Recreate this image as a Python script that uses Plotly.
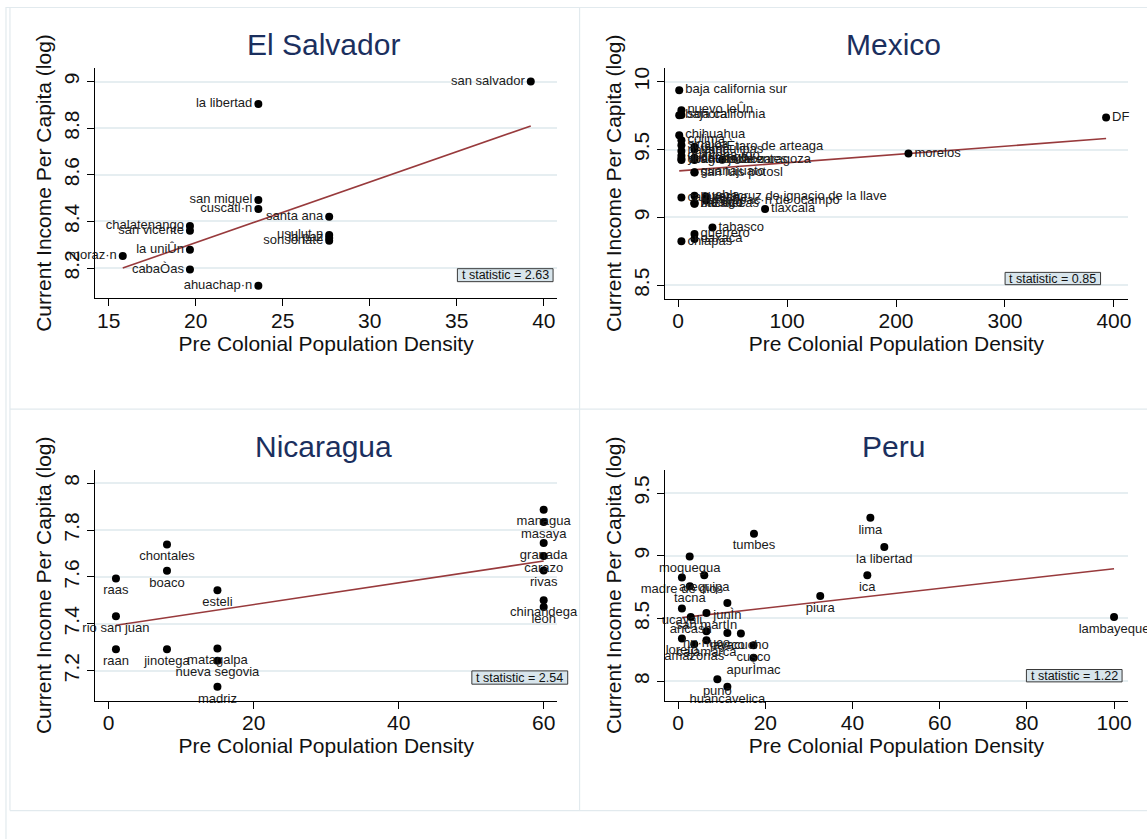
import plotly.graph_objects as go

# ---------------- data ----------------
# El Salvador
es_names = ["san salvador", "la libertad", "san miguel", "cuscatl·n", "santa ana",
            "chalatenango", "san vicente", "usulut·n", "la paz", "sonsonate",
            "la uniÛn", "moraz·n", "cabaÒas", "ahuachap·n"]
es_density = [39.25, 23.6, 23.6, 23.6, 27.67, 19.67, 19.67, 27.67, 27.67, 27.67,
              19.67, 15.81, 19.67, 23.6]
es_income = [9.0, 8.904, 8.492, 8.453, 8.42, 8.38, 8.36, 8.342, 8.329, 8.317,
             8.279, 8.252, 8.194, 8.124]
es_fit_x = [15.81, 39.25]
es_fit_y = [8.20, 8.81]
es_tstat = "t statistic = 2.63"
es_xticks = [15, 20, 25, 30, 35, 40]
es_yticks = [8.2, 8.4, 8.6, 8.8, 9.0]
es_ytext = ["8.2", "8.4", "8.6", "8.8", "9"]

# Mexico
mx_names = ["baja california sur", "nuevo leÛn", "baja california", "sonora", "DF",
            "chihuahua", "colima", "sinaloa", "querÈtaro de arteaga", "tamaulipas",
            "nayarit", "morelos", "quintana roo", "durango", "coahuila de zaragoza",
            "aguascalientes", "jalisco", "yucat·n", "guanajuato", "san luis potosl",
            "campeche", "puebla", "veracruz de ignacio de la llave",
            "michoac·n de ocampo", "zacatecas", "hidalgo", "mÈxico", "tlaxcala",
            "tabasco", "guerrero", "oaxaca", "chiapas"]
mx_density = [1, 3, 1, 3, 392.8, 1, 3, 3, 15, 15, 3, 211.4, 3, 15, 3, 15, 40.4, 3,
              15, 15, 3, 15, 25.5, 25.5, 15, 15, 15, 79.8, 31.5, 15, 15, 3]
mx_income = [9.937, 9.79, 9.753, 9.755, 9.735, 9.606, 9.569, 9.532, 9.52, 9.50,
             9.49, 9.471, 9.455, 9.44, 9.422, 9.422, 9.425, 9.43, 9.333, 9.33,
             9.147, 9.16, 9.155, 9.125, 9.103, 9.108, 9.10, 9.062, 8.926, 8.878,
             8.841, 8.824]
mx_fit_x = [1, 392.8]
mx_fit_y = [9.343, 9.581]
mx_tstat = "t statistic = 0.85"
mx_xticks = [0, 100, 200, 300, 400]
mx_yticks = [8.5, 9.0, 9.5, 10.0]
mx_ytext = ["8.5", "9", "9.5", "10"]

# Nicaragua
ni_names = ["managua", "masaya", "granada", "carazo", "rivas", "chinandega", "leon",
            "chontales", "boaco", "raas", "esteli", "rio san juan", "raan",
            "jinotega", "matagalpa", "nueva segovia", "madriz"]
ni_density = [60, 60, 60, 60, 60, 60, 60, 8.04, 8.04, 1.0, 15.0, 1.0, 1.0, 8.04,
              15.0, 15.0, 15.0]
ni_income = [7.887, 7.834, 7.745, 7.689, 7.628, 7.501, 7.472, 7.738, 7.626, 7.593,
             7.543, 7.433, 7.292, 7.292, 7.295, 7.243, 7.132]
ni_fit_x = [1.0, 60]
ni_fit_y = [7.394, 7.668]
ni_tstat = "t statistic = 2.54"
ni_xticks = [0, 20, 40, 60]
ni_yticks = [7.2, 7.4, 7.6, 7.8, 8.0]
ni_ytext = ["7.2", "7.4", "7.6", "7.8", "8"]

# Peru
pe_names = ["lima", "tumbes", "la libertad", "moquegua", "ica", "madre de dios",
            "arequipa", "tacna", "piura", "junÌn", "ucayali", "ancash", "san martÌn",
            "lambayeque", "hu·nuco", "pasco", "ayacucho", "loreto", "cajamarca",
            "amazonas", "cusco", "apurÌmac", "puno", "huancavelica"]
pe_density = [44.1, 17.4, 47.3, 2.65, 43.4, 0.87, 6.0, 2.7, 32.6, 11.3, 0.87, 2.9,
              6.5, 100.0, 6.5, 11.3, 14.4, 0.87, 6.5, 3.7, 17.3, 17.3, 9.0, 11.3]
pe_income = [9.303, 9.176, 9.069, 8.995, 8.844, 8.826, 8.844, 8.756, 8.679, 8.623,
             8.579, 8.512, 8.544, 8.512, 8.398, 8.385, 8.38, 8.34, 8.326, 8.295,
             8.287, 8.186, 8.016, 7.955]
pe_fit_x = [0.87, 100]
pe_fit_y = [8.507, 8.897]
pe_tstat = "t statistic = 1.22"
pe_xticks = [0, 20, 40, 60, 80, 100]
pe_yticks = [8.0, 8.5, 9.0, 9.5]
pe_ytext = ["8", "8.5", "9", "9.5"]

# ---------------- layout helpers ----------------
W, H = 1147, 839
FONT = "Liberation Sans, Arial, Helvetica, sans-serif"
TITLE_COLOR = "#1b2f5e"
FIT_COLOR = "#983a3c"
GRID_COLOR = "#e6eef1"
FRAME_COLOR = "#e2eaee"


def px(p):
    return p / W


def py(p):
    return 1 - p / H


fig = go.Figure()

panels = [
    dict(title="El Salvador", names=es_names, x=es_density, y=es_income,
         fx=es_fit_x, fy=es_fit_y, t=es_tstat, xt=es_xticks, yt=es_yticks, ytt=es_ytext,
         box=(95.4, 559, 66.7, 297.7), xr=[14.22, 40.76], yr=[8.07, 9.06],
         pos="middle left", tbox=(459, 555, 268, 281)),
    dict(title="Mexico", names=mx_names, x=mx_density, y=mx_income,
         fx=mx_fit_x, fy=mx_fit_y, t=mx_tstat, xt=mx_xticks, yt=mx_yticks, ytt=mx_ytext,
         box=(667.5, 1131.5, 66.7, 298.3), xr=[-11.9, 412.5], yr=[8.40, 10.103],
         pos="middle right", tbox=(1008.6, 1104.4, 271.7, 284)),
    dict(title="Nicaragua", names=ni_names, x=ni_density, y=ni_income,
         fx=ni_fit_x, fy=ni_fit_y, t=ni_tstat, xt=ni_xticks, yt=ni_yticks, ytt=ni_ytext,
         box=(95.4, 559.4, 469.3, 700.7), xr=[-1.88, 61.9], yr=[7.072, 8.057],
         pos="bottom center", tbox=(473.5, 569.7, 670.7, 684)),
    dict(title="Peru", names=pe_names, x=pe_density, y=pe_income,
         fx=pe_fit_x, fy=pe_fit_y, t=pe_tstat, xt=pe_xticks, yt=pe_yticks, ytt=pe_ytext,
         box=(667.5, 1131.5, 469.3, 700.7), xr=[-2.97, 103.1], yr=[7.843, 9.686],
         pos="bottom center", tbox=(1030, 1126, 669.3, 681.7)),
]

annotations = []
shapes = []

for i, p in enumerate(panels, start=1):
    xa = "x" if i == 1 else f"x{i}"
    ya = "y" if i == 1 else f"y{i}"
    left, right, top, bottom = p["box"]

    fig.add_trace(go.Scatter(
        x=p["fx"], y=p["fy"], mode="lines",
        line=dict(color=FIT_COLOR, width=1.6),
        xaxis=xa, yaxis=ya, showlegend=False, hoverinfo="skip"))
    fig.add_trace(go.Scatter(
        x=p["x"], y=p["y"], mode="markers+text", text=p["names"],
        textposition=p["pos"],
        textfont=dict(family=FONT, size=13, color="#1a1a1a"),
        marker=dict(color="black", size=8),
        cliponaxis=False, xaxis=xa, yaxis=ya, showlegend=False))

    axis_common = dict(
        showline=True, linecolor="black", linewidth=1.3, ticks="outside",
        ticklen=7, tickcolor="black", tickwidth=1.2, zeroline=False,
        tickfont=dict(family=FONT, size=21, color="#111111"),
    )
    fig.layout[("xaxis" if i == 1 else f"xaxis{i}")] = dict(
        axis_common, domain=[px(left), px(right)], anchor=ya, range=p["xr"],
        tickvals=p["xt"], showgrid=False, ticklabelstandoff=-4,
        title=dict(text="Pre Colonial Population Density", standoff=4,
                   font=dict(family=FONT, size=21, color="#111111")),
    )
    fig.layout[("yaxis" if i == 1 else f"yaxis{i}")] = dict(
        axis_common, domain=[py(bottom), py(top)], anchor=xa, range=p["yr"],
        tickvals=p["yt"], ticktext=p["ytt"], tickangle=-90,
        showgrid=True, gridcolor=GRID_COLOR, gridwidth=1.5,
        title=dict(text="Current Income Per Capita (log)", standoff=2,
                   font=dict(family=FONT, size=21, color="#111111")),
    )

    # panel title
    annotations.append(dict(
        text=p["title"], x=px((left + right) / 2 - 3), y=py(top - 23),
        xref="paper", yref="paper", showarrow=False, xanchor="center",
        yanchor="middle", font=dict(family=FONT, size=30, color=TITLE_COLOR)))

    # t statistic box
    bl, br, bt, bb = p["tbox"]
    shapes.append(dict(type="rect", xref="paper", yref="paper",
                       x0=px(bl), x1=px(br), y0=py(bb), y1=py(bt),
                       fillcolor="#d8e5ec", line=dict(color="#3a3a3a", width=1)))
    annotations.append(dict(
        text=p["t"], x=px((bl + br) / 2), y=py((bt + bb) / 2),
        xref="paper", yref="paper", showarrow=False, xanchor="center",
        yanchor="middle", font=dict(family=FONT, size=12.5, color="#111111")))

# frame lines around the combined graph and its panels
frame_lines = [
    (6, 6, 6, 900), (10, 7, 10, 810.5), (581.6, 7, 581.6, 810.5),
    (6, 6.5, 1200, 6.5), (10, 408.7, 1200, 408.7), (10, 810.5, 1200, 810.5),
]
for x0, y0, x1, y1 in frame_lines:
    shapes.append(dict(type="line", xref="paper", yref="paper",
                       x0=px(x0), y0=py(y0), x1=px(x1), y1=py(y1),
                       line=dict(color=FRAME_COLOR, width=1.2)))

fig.update_layout(
    width=W, height=H, margin=dict(l=0, r=0, t=0, b=0),
    paper_bgcolor="white", plot_bgcolor="white",
    font=dict(family=FONT),
    annotations=annotations, shapes=shapes,
)

fig.write_html("out.html")
